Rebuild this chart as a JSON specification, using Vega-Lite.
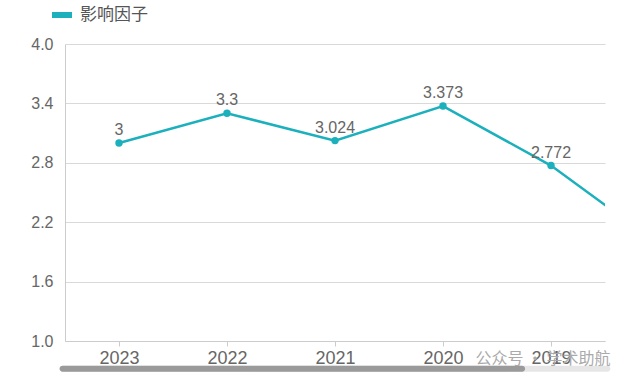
{
  "$schema": "https://vega.github.io/schema/vega-lite/v6.json",
  "autosize": "none",
  "width": 540,
  "height": 297,
  "padding": {"left": 65, "top": 44, "right": 30, "bottom": 37},
  "background": "white",
  "config": {
    "view": {"stroke": null},
    "font": "Liberation Sans, Noto Sans CJK SC",
    "axis": {"labelFont": "Liberation Sans", "labelFontSize": 16, "labelColor": "#666666", "domainColor": "#cccccc", "tickColor": "#cccccc", "gridColor": "#d9d9d9", "titleFontSize": 0}
  },
  "datasets": {
    "main": [
      {"year": 2023, "value": 3, "label": "3", "series": "影响因子"},
      {"year": 2022, "value": 3.3, "label": "3.3", "series": "影响因子"},
      {"year": 2021, "value": 3.024, "label": "3.024", "series": "影响因子"},
      {"year": 2020, "value": 3.373, "label": "3.373", "series": "影响因子"},
      {"year": 2019, "value": 2.772, "label": "2.772", "series": "影响因子"},
      {"year": 2018, "value": 1.976, "label": "1.976", "series": "影响因子"}
    ],
    "scroll": [
      {"x1": 2023.55, "x2": 2018.45, "y1": 0.75, "y2": 0.69, "part": "track"},
      {"x1": 2023.55, "x2": 2019.24, "y1": 0.75, "y2": 0.69, "part": "thumb"}
    ],
    "mark": [
      {"x": 2019.7, "y": 0.82, "text": "公众号 · 学术助航"}
    ]
  },
  "layer": [
    {
      "data": {"name": "main"},
      "mark": {"type": "line", "color": "#1bb0bc", "strokeWidth": 2.5, "clip": true},
      "encoding": {
        "x": {"field": "year", "type": "quantitative",
          "scale": {"domain": [2023.5, 2018.5], "nice": false, "zero": false},
          "axis": {"values": [2023, 2022, 2021, 2020, 2019], "format": "d", "grid": false, "title": null, "tickSize": 5, "labelPadding": 3, "labelFlush": false, "labelFontSize": 18}},
        "y": {"field": "value", "type": "quantitative",
          "scale": {"domain": [1, 4], "nice": false, "zero": false},
          "axis": {"values": [1, 1.6, 2.2, 2.8, 3.4, 4], "format": ".1f", "title": null, "ticks": false, "labelPadding": 12, "grid": true}},
        "color": {"field": "series", "type": "nominal",
          "scale": {"range": ["#1bb0bc"]},
          "legend": {"orient": "none", "legendX": -13, "legendY": -39, "title": null,
            "symbolType": "M-1,-0.3L1,-0.3L1,0.3L-1,0.3Z", "symbolSize": 400, "symbolStrokeWidth": 0,
            "symbolFillColor": "#1bb0bc", "symbolOpacity": 1,
            "labelFont": "Noto Sans CJK SC", "labelFontSize": 17, "labelColor": "#555555", "labelOffset": 8}}
      }
    },
    {
      "data": {"name": "main"},
      "transform": [{"filter": "datum.year >= 2019"}],
      "mark": {"type": "point", "filled": true, "color": "#1bb0bc", "size": 55, "opacity": 1, "clip": true},
      "encoding": {
        "x": {"field": "year", "type": "quantitative"},
        "y": {"field": "value", "type": "quantitative"}
      }
    },
    {
      "data": {"name": "main"},
      "transform": [{"filter": "datum.year >= 2019"}],
      "mark": {"type": "text", "font": "Liberation Sans", "fontSize": 16, "color": "#666666", "baseline": "bottom", "dy": -5},
      "encoding": {
        "x": {"field": "year", "type": "quantitative"},
        "y": {"field": "value", "type": "quantitative"},
        "text": {"field": "label"}
      }
    },
    {
      "data": {"name": "scroll"},
      "mark": {"type": "rect", "clip": false, "cornerRadius": 3},
      "encoding": {
        "x": {"field": "x1", "type": "quantitative"},
        "x2": {"field": "x2"},
        "y": {"field": "y1", "type": "quantitative"},
        "y2": {"field": "y2"},
        "color": {"field": "part", "type": "nominal", "scale": {"domain": ["track", "thumb"], "range": ["#e6e6e6", "#9a9a9a"]}, "legend": null}
      }
    },
    {
      "data": {"name": "mark"},
      "mark": {"type": "text", "font": "Noto Sans CJK SC", "fontSize": 16, "color": "#aaaaaa", "align": "left", "baseline": "middle", "clip": false},
      "encoding": {
        "x": {"field": "x", "type": "quantitative"},
        "y": {"field": "y", "type": "quantitative"},
        "text": {"field": "text"}
      }
    }
  ],
  "resolve": {"scale": {"color": "independent"}}
}
